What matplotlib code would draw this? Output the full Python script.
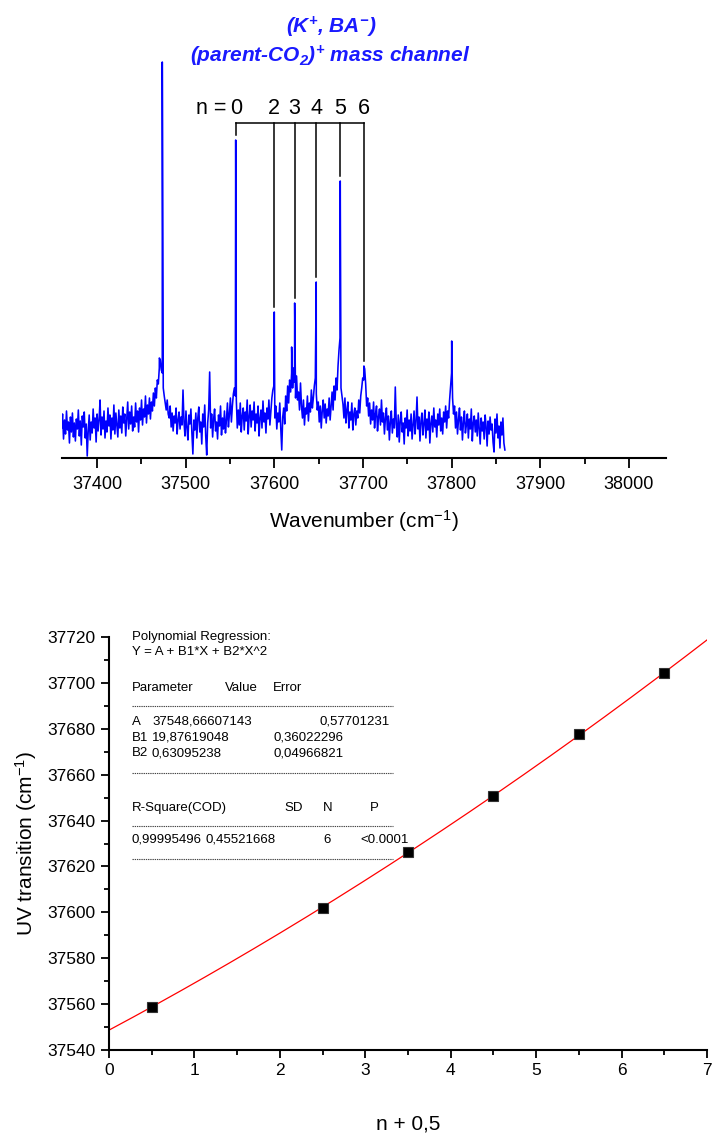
import numpy as np
import matplotlib
matplotlib.use("Agg")
import matplotlib.pyplot as plt
from matplotlib.lines import Line2D

plt.rcParams["font.family"] = ["Liberation Sans", "DejaVu Sans"]
plt.rcParams["mathtext.fontset"] = "custom"
plt.rcParams["mathtext.rm"] = "Liberation Sans"
plt.rcParams["mathtext.it"] = "Liberation Sans:italic"
plt.rcParams["mathtext.bf"] = "Liberation Sans:bold"
plt.rcParams["mathtext.bfit"] = "Liberation Sans:italic:bold"

# ---- spectrum: baseline/noise trace (hundredths, arb. units) on a uniform grid
wn_start, wn_stop = 37360.0, 37860.0
trace = [
    30, 44, 19, 38, 24, 47, 28, 36, 15, 41, 26, 45, 21, 35, 17,
    39, 29, 48, 22, 37, 13, 42, 31, 46, 20, 34, 2, 27, 43, 18,
    36, 25, 49, 30, 40, 16, 44, 27, 38, 58, 23, 41, 29, 47, 20,
    37, 26, 50, 32, 43, 19, 40, 28, 53, 24, 45, 33, 21, 48, 30,
    42, 25, 51, 35, 44, 22, 39, 56, 29, 46, 34, 52, 27, 41, 31,
    55, 36, 47, 26, 50, 38, 58, 33, 49, 41, 62, 35, 53, 44, 60,
    39, 56, 47, 65, 52, 70, 60, 78, 74, 90, 98, 88, 85, 70, 62,
    55, 48, 58, 44, 40, 52, 31, 45, 27, 42, 35, 50, 24, 38, 46,
    29, 41, 33, 68, 36, 22, 47, 30, 18, 43, 34, 49, 25, 4, 38,
    28, 45, 20, 40, 51, 26, 36, 14, 44, 31, 53, 22, 3, 35, 48,
    86, 30, 44, 21, 39, 49, 27, 36, 19, 43, 32, 52, 23, 40, 29,
    47, 25, 38, 55, 31, 44, 60, 36, 52, 64, 70, 62, 58, 30, 48,
    33, 55, 26, 42, 50, 28, 46, 37, 58, 24, 41, 53, 31, 47, 38,
    56, 27, 44, 35, 52, 22, 40, 48, 30, 57, 36, 45, 25, 50, 39,
    58, 33, 46, 60, 68, 72, 40, 52, 29, 45, 36, 55, 30, 8, 41,
    50, 34, 62, 47, 72, 55, 78, 66, 85, 70, 90, 76, 60, 82, 58,
    66, 48, 75, 52, 40, 58, 33, 50, 44, 62, 37, 55, 46, 68, 50,
    60, 72, 80, 64, 48, 56, 36, 52, 30, 47, 58, 40, 54, 35, 49,
    42, 60, 38, 52, 66, 48, 72, 58, 80, 68, 92, 108, 120, 70, 62,
    54, 40, 60, 35, 48, 56, 30, 46, 38, 55, 28, 44, 50, 33, 47,
    40, 58, 45, 62, 70, 80, 78, 89, 74, 52, 60, 42, 55, 34, 48,
    38, 56, 30, 44, 52, 27, 41, 49, 33, 58, 36, 45, 24, 40, 50,
    28, 42, 18, 36, 47, 25, 39, 30, 71, 34, 21, 43, 16, 37, 46,
    26, 35, 14, 40, 30, 48, 22, 38, 27, 44, 19, 33, 47, 24, 36,
    61, 29, 41, 17, 37, 45, 23, 34, 48, 20, 39, 28, 46, 15, 35,
    42, 26, 50, 31, 38, 21, 44, 33, 49, 27, 40, 24, 46, 36, 52,
    30, 47, 40, 58, 72, 85, 60, 44, 52, 30, 46, 24, 38, 50, 28,
    41, 18, 36, 47, 25, 33, 44, 20, 39, 29, 49, 17, 35, 42, 26,
    38, 22, 45, 30, 14, 40, 27, 36, 19, 43, 31, 12, 37, 24, 41,
    28, 34, 16, 6, 39, 25, 44, 20, 32, 10, 36, 23, 40, 15, 8,
]

# sharp lines in the spectrum (wavenumber, intensity)
line_wn = [37470.3, 37473.6, 37556.4, 37556.55, 37599.9, 37619.5, 37622.9,
           37647.2, 37674.3, 37674.8, 37701.0, 37800.0]
line_int = [1.00, 3.96, 3.18, 2.65, 1.46, 1.11, 1.55, 1.76, 2.77, 1.68, 0.92, 1.17]

# vibrational progression assignment
prog_n = ["0", "2", "3", "4", "5", "6"]
prog_wn = [37556.4, 37599.9, 37622.9, 37647.2, 37674.3, 37701.0]
prog_int = [3.18, 1.46, 1.55, 1.76, 2.77, 0.92]

# ---- progression fit
n_half = [0.5, 2.5, 3.5, 4.5, 5.5, 6.5]
uv_transition = [37558.6, 37602.1, 37626.2, 37650.6, 37677.6, 37704.3]
coef_A, coef_B1, coef_B2 = 37548.66607143, 19.87619048, 0.63095238

W, H = 713, 1146
fig = plt.figure(figsize=(W / 100, H / 100), dpi=100)


def px(x, y):
    return x / W, 1 - y / H


# ================= top: spectrum =================
ax1 = fig.add_axes([62 / W, 1 - 458 / H, 604 / W, 408 / H])
grid = np.linspace(wn_start, wn_stop, len(trace))
xs = np.concatenate([grid, line_wn])
ys = np.concatenate([np.array(trace) / 100.0, line_int])
order = np.argsort(xs)
ax1.plot(xs[order], ys[order], color="#0000ff", lw=1.15)

ax1.set_xlim(37360.5, 38041.7)
ax1.set_ylim(0, 4.08)
for s in ["top", "right", "left"]:
    ax1.spines[s].set_visible(False)
ax1.spines["bottom"].set_linewidth(1.5)
ax1.set_yticks([])
ax1.set_xticks(np.arange(37400, 38001, 100))
ax1.set_xticks(np.arange(37450, 38001, 100), minor=True)
ax1.tick_params(axis="x", which="major", direction="out", length=7, width=1.3,
                labelsize=13, pad=6)
ax1.tick_params(axis="x", which="minor", direction="out", length=4, width=1.3)
ax1.set_xlabel("Wavenumber (cm$^{\\mathrm{-1}}$)", fontsize=15, labelpad=11)

# bracket over the progression
bar_y = 3.35
ax1.plot([prog_wn[0], prog_wn[-1]], [bar_y, bar_y], color="black", lw=1.1)
for wn, h, lab in zip(prog_wn, prog_int, prog_n):
    ax1.plot([wn, wn], [bar_y, h + 0.05], color="black", lw=1.1)
    ax1.text(wn, bar_y + 0.04, lab, ha="center", va="bottom", fontsize=15.5)
ax1.annotate("n =", xy=(prog_wn[0], bar_y + 0.04), xytext=(-7, 0),
             textcoords="offset points", ha="right", va="bottom", fontsize=15.5)

fig.text(*px(331, 27), r"(K$^{\mathbfit{+}}$, BA$^{\mathbfit{-}}$)", ha="center",
         va="center", color="#1a1aff", fontsize=15, fontweight="bold",
         fontstyle="italic")
fig.text(*px(330, 56), r"(parent-CO$_{\mathbfit{2}}$)$^{\mathbfit{+}}$ mass channel",
         ha="center", va="center", color="#1a1aff", fontsize=15,
         fontweight="bold", fontstyle="italic")

# ================= bottom: polynomial fit =================
ax2 = fig.add_axes([109 / W, 1 - 1050 / H, 598 / W, 413 / H])
xf = np.linspace(0, 7, 200)
ax2.plot(xf, coef_A + coef_B1 * xf + coef_B2 * xf ** 2, color="red", lw=0.9)
ax2.plot(n_half, uv_transition, ls="none", marker="s", ms=6.5, mfc="black",
         mec="#333333", mew=0.8)
ax2.set_xlim(0, 7)
ax2.set_ylim(37540, 37720)
for s in ["top", "right"]:
    ax2.spines[s].set_visible(False)
for s in ["left", "bottom"]:
    ax2.spines[s].set_linewidth(1.5)
ax2.set_xticks(np.arange(0, 8, 1))
ax2.set_xticks(np.arange(0.5, 7, 1), minor=True)
ax2.set_yticks(np.arange(37540, 37721, 20))
ax2.set_yticks(np.arange(37550, 37720, 20), minor=True)
ax2.tick_params(which="major", direction="out", length=6, width=1.3,
                labelsize=12.5)
ax2.tick_params(which="minor", direction="out", length=3.5, width=1.3)
ax2.set_xlabel("n + 0,5", fontsize=15, labelpad=26)
ax2.set_ylabel("UV transition (cm$^{\\mathrm{-1}}$)", fontsize=15, labelpad=6)

# regression report
tfs = 9.5
rows = [
    (132, 637, "Polynomial Regression:"),
    (132, 652, "Y = A + B1*X + B2*X^2"),
    (132, 688, "Parameter"), (225, 688, "Value"), (273, 688, "Error"),
    (132, 722, "A"), (152, 722, "37548,66607143"), (320, 722, "0,57701231"),
    (132, 738, "B1"), (152, 738, "19,87619048"), (273, 738, "0,36022296"),
    (132, 753, "B2"), (152, 753, "0,63095238"), (273, 753, "0,04966821"),
    (132, 808, "R-Square(COD)"), (284, 808, "SD"), (323, 808, "N"), (370, 808, "P"),
    (132, 840, "0,99995496"), (206, 840, "0,45521668"), (323, 840, "6"),
    (360, 840, "<0.0001"),
]
for x, y, t in rows:
    fig.text(*px(x, y), t, ha="left", va="center", fontsize=tfs)
for y in [706, 773, 826, 859]:
    fig.add_artist(Line2D([132 / W, 393 / W], [1 - y / H, 1 - y / H],
                          transform=fig.transFigure, color="#444444", lw=0.8,
                          ls=(0, (1.2, 0.8))))

fig.savefig("out.png", dpi=100)
